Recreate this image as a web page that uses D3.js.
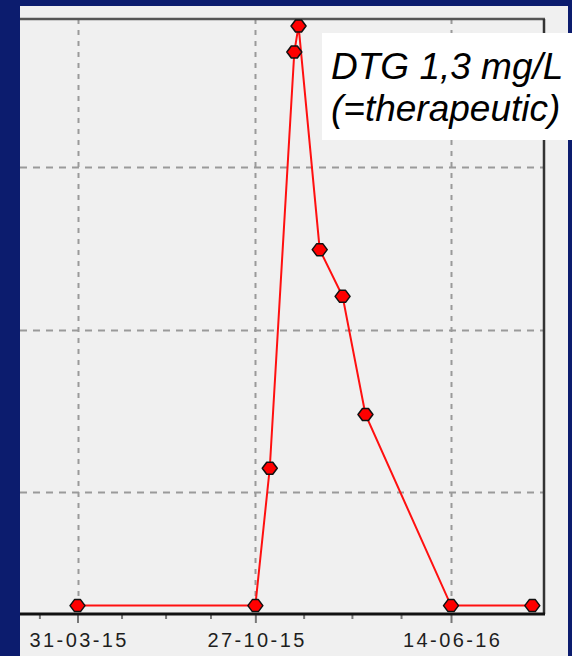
<!DOCTYPE html>
<html>
<head>
<meta charset="utf-8">
<script src="https://cdn.jsdelivr.net/npm/d3@7"></script>
<style>
  html, body { margin: 0; padding: 0; background: #0c1c6e; }
  svg { display: block; }
</style>
</head>
<body>
<div class="chart"></div>
<script>
// viral load samples (date, copies/mL)
const sampleDates = ["31-03-15", "27-10-15", "13-11-15", "12-12-15", "17-12-15",
                     "11-01-16", "07-02-16", "05-03-16", "14-06-16", "18-09-16"];
const loadValues = [20, 20, 140, 51000, 73800, 3100, 1600, 300, 20, 20];
// axis ticks
const majorTicks = ["31-03-15", "27-10-15", "14-06-16"];
const minorTicks = ["14-02-15", "22-05-15", "13-07-15", "04-09-15",
                    "23-12-15", "18-02-16", "16-04-16"];
const yGrid = [100, 1000, 10000];
const noteLines = ["DTG 1,3 mg/L", "(=therapeutic)"];

const W = 572, H = 656;
const parse = d3.timeParse("%d-%m-%y");
const fmt = d3.timeFormat("%d-%m-%y");

// frame (left side is cropped away by the navy border)
const panel = {left: 20, top: 6, right: 568};
const frame = {top: 19, bottom: 614, right: 544};

const svg = d3.select(".chart").append("svg")
    .attr("width", W)
    .attr("height", H);

svg.append("rect")
    .attr("x", panel.left).attr("y", panel.top)
    .attr("width", panel.right - panel.left).attr("height", H - panel.top)
    .attr("fill", "#f0f0f0");

const x = d3.scaleTime()
    .domain([parse("31-03-15"), parse("14-06-16")])
    .range([77.5, 451]);

const y = d3.scaleLog()
    .domain([10, 100000])
    .range([654.5, 4.5]);

// grid
const grid = svg.append("g");
grid.selectAll("line.h")
    .data(yGrid)
    .join("line")
    .attr("class", "h")
    .attr("x1", panel.left).attr("x2", frame.right)
    .attr("y1", d => Math.round(y(d)) + 0.5)
    .attr("y2", d => Math.round(y(d)) + 0.5)
    .attr("stroke", "#9a9a9a")
    .attr("stroke-width", 2)
    .attr("stroke-dasharray", "7,6");
grid.selectAll("line.v")
    .data(majorTicks)
    .join("line")
    .attr("class", "v")
    .attr("x1", d => Math.round(x(parse(d))) + 0.5)
    .attr("x2", d => Math.round(x(parse(d))) + 0.5)
    .attr("y1", frame.top).attr("y2", frame.bottom)
    .attr("stroke", "#9a9a9a")
    .attr("stroke-width", 2)
    .attr("stroke-dasharray", "5,6");

// x axis
const minorAxis = svg.append("g")
    .attr("transform", `translate(0,${frame.bottom})`)
    .call(d3.axisBottom(x)
        .tickValues(minorTicks.map(parse))
        .tickSize(5)
        .tickFormat(""));
const majorAxis = svg.append("g")
    .attr("transform", `translate(0,${frame.bottom})`)
    .call(d3.axisBottom(x)
        .tickValues(majorTicks.map(parse))
        .tickSize(9)
        .tickPadding(10)
        .tickFormat(fmt));
[minorAxis, majorAxis].forEach(g => {
    g.select(".domain").remove();
    g.selectAll(".tick line").attr("stroke", "#777").attr("stroke-width", 2);
});
majorAxis.selectAll(".tick text")
    .attr("fill", "#1e1e1e")
    .attr("font-family", "Liberation Sans, Arial, sans-serif")
    .attr("font-size", 20)
    .attr("letter-spacing", 2.4)
    .attr("dx", 1.2);

// frame lines
svg.append("line")
    .attr("x1", panel.left).attr("x2", frame.right + 1)
    .attr("y1", frame.top).attr("y2", frame.top)
    .attr("stroke", "#555").attr("stroke-width", 2.5);
svg.append("line")
    .attr("x1", frame.right).attr("x2", frame.right)
    .attr("y1", frame.top).attr("y2", frame.bottom)
    .attr("stroke", "#333").attr("stroke-width", 2.5);
svg.append("line")
    .attr("x1", panel.left).attr("x2", frame.right + 1)
    .attr("y1", frame.bottom).attr("y2", frame.bottom)
    .attr("stroke", "#111").attr("stroke-width", 3);

// series
const data = sampleDates.map((d, i) => ({date: parse(d), value: loadValues[i]}));
svg.append("path")
    .datum(data)
    .attr("fill", "none")
    .attr("stroke", "#ff1010")
    .attr("stroke-width", 2)
    .attr("d", d3.line().x(d => x(d.date)).y(d => y(d.value)));

// flattened hexagon marker, like the original plot's points
const marker = {
    draw(ctx) {
        ctx.moveTo(-7.5, 0);
        ctx.lineTo(-3, -6);
        ctx.lineTo(3, -6);
        ctx.lineTo(7.5, 0);
        ctx.lineTo(3, 6);
        ctx.lineTo(-3, 6);
        ctx.closePath();
    }
};
svg.selectAll("path.pt")
    .data(data)
    .join("path")
    .attr("class", "pt")
    .attr("transform", d => `translate(${x(d.date)},${y(d.value)})`)
    .attr("d", d3.symbol(marker)())
    .attr("fill", "#ff0000")
    .attr("stroke", "#111")
    .attr("stroke-width", 1.5)
    .attr("stroke-linejoin", "round");

// annotation
svg.append("rect")
    .attr("x", 322).attr("y", 33)
    .attr("width", W - 322).attr("height", 107)
    .attr("fill", "#ffffff");
svg.append("g").selectAll("text")
    .data(noteLines)
    .join("text")
    .attr("x", 331)
    .attr("y", (d, i) => 79 + i * 42)
    .attr("font-family", "Liberation Sans, Arial, sans-serif")
    .attr("font-style", "italic")
    .attr("font-size", 37)
    .attr("fill", "#000")
    .text(d => d);
</script>
</body>
</html>
